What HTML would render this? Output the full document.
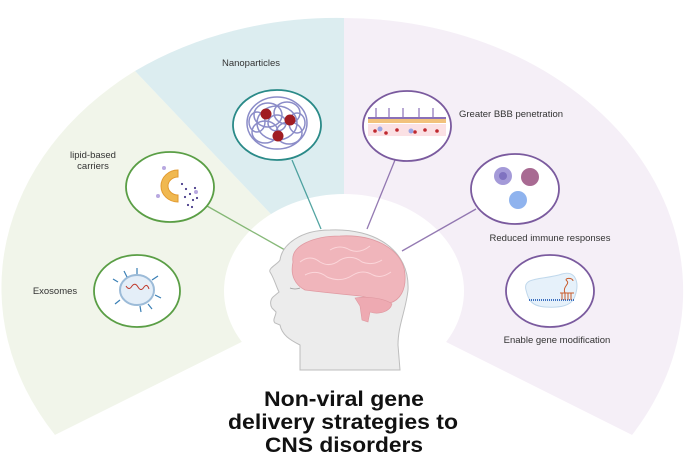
<!DOCTYPE html>
<html><head><meta charset="utf-8"><style>
html,body{margin:0;padding:0;background:#fff}
svg{display:block}
text{font-family:"Liberation Sans",Arial,sans-serif}
</style></head><body>
<svg width="685" height="458" viewBox="0 0 685 458" xmlns="http://www.w3.org/2000/svg">
<defs>
<linearGradient id="fl" x1="0" x2="1"><stop offset="0" stop-color="#6aa858"/><stop offset="1" stop-color="#6aa858" stop-opacity="0"/></linearGradient>
<linearGradient id="fr" x1="1" x2="0"><stop offset="0" stop-color="#8a6aa8"/><stop offset="1" stop-color="#8a6aa8" stop-opacity="0"/></linearGradient>
</defs>
<path d="M344,291 L55,435 A340,273 0 0 1 135,71 Z" fill="#f1f5ea"/>
<path d="M344,291 L135,71 A340,273 0 0 1 344,18 Z" fill="#dcedf0"/>
<path d="M344,291 L344,18 A340,273 0 0 1 632,435 Z" fill="#f5eff7"/>
<ellipse cx="344" cy="291" rx="120" ry="97" fill="#fff"/>
<path d="M344,291 L55,435 L632,435 Z" fill="#fff"/>
<rect x="0" y="435" width="685" height="23" fill="#fff"/>

<line x1="180" y1="291" x2="275" y2="291" stroke="url(#fl)" stroke-width="1.5"/>
<line x1="207" y1="206" x2="285" y2="250" stroke="#6aa858" stroke-width="1.3" opacity="0.8"/>
<line x1="292" y1="160" x2="321" y2="229" stroke="#2a8f8c" stroke-width="1.3" opacity="0.8"/>
<line x1="395" y1="160" x2="367" y2="229" stroke="#7a5aa0" stroke-width="1.3" opacity="0.8"/>
<line x1="476" y1="209" x2="402" y2="251" stroke="#7a5aa0" stroke-width="1.3" opacity="0.8"/>
<line x1="507" y1="291" x2="410" y2="291" stroke="url(#fr)" stroke-width="1.5"/>

<path d="M300,370 L300,345 C290,340 282,335 280,325 L275,323 C272,320 276,316 276,312 L272,308 C270,305 270,300 273,297 L279,292 C276,286 274,278 270,272 C268,268 278,264 280,260 C282,245 300,230 330,230 C375,228 410,250 408,290 C406,310 398,325 398,345 L400,370 Z" fill="#ececec" stroke="#bdbdbd" stroke-width="1"/>
<path d="M293,262 C290,245 315,236 340,236 C375,234 404,250 405,275 C406,290 400,300 390,303 C380,305 375,298 360,296 C340,294 320,292 305,290 C295,285 290,275 293,262 Z" fill="#f0b5bb" stroke="#e09aa2" stroke-width="0.8"/>
<path d="M355,298 C365,296 385,298 392,304 C390,312 378,315 370,312 L368,322 L362,320 L360,306 Z" fill="#eeaab2" stroke="#de98a0" stroke-width="0.6"/>
<path d="M300,262 q10,-8 20,0 q10,6 20,-2 q12,-6 22,2 q10,4 20,-2 M305,275 q12,-6 22,2 q14,6 26,-2 q10,-6 20,0 q8,4 18,-3 M330,250 q10,-6 20,0 q10,4 20,-4" fill="none" stroke="#fbd6da" stroke-width="1"/>
<path d="M290,288 q5,2 10,0" stroke="#999" fill="none" stroke-width="0.8"/>

<g stroke-width="1.8" fill="#fff">
<ellipse cx="137" cy="291" rx="43" ry="36" stroke="#5a9e45"/>
<ellipse cx="170" cy="187" rx="44" ry="35" stroke="#5a9e45"/>
<ellipse cx="277" cy="125" rx="44" ry="35" stroke="#2a8a88"/>
<ellipse cx="407" cy="126" rx="44" ry="35" stroke="#7a5a9e"/>
<ellipse cx="515" cy="189" rx="44" ry="35" stroke="#7a5a9e"/>
<ellipse cx="550" cy="291" rx="44" ry="36" stroke="#7a5a9e"/>
</g>
<ellipse cx="137" cy="290" rx="17" ry="15" fill="#e4eef8" stroke="#9cbbd8" stroke-width="2"/>
<path d="M126,286 q3,5 6,0 q3,-4 6,1 q3,5 6,0 q3,-4 5,2" stroke="#c0392b" fill="none" stroke-width="1"/>
<g stroke="#3a7fb5" stroke-width="1.2"><line x1="118" y1="282" x2="113" y2="279"/><line x1="120" y1="300" x2="115" y2="304"/><line x1="137" y1="274" x2="137" y2="268"/><line x1="152" y1="280" x2="158" y2="276"/><line x1="155" y1="295" x2="161" y2="298"/><line x1="140" y1="306" x2="141" y2="312"/><line x1="127" y1="277" x2="124" y2="271"/><line x1="148" y1="304" x2="152" y2="309"/></g>
<path d="M178,170 A17,16 0 1 0 178,202 L178,195 A10,9 0 1 1 178,177 Z" fill="#f0b850" stroke="#e29a30" stroke-width="1"/>
<g fill="#4a3d8a"><circle cx="182" cy="184" r="1.1"/><circle cx="186" cy="189" r="1.1"/><circle cx="190" cy="194" r="1.1"/><circle cx="185" cy="197" r="1.1"/><circle cx="193" cy="200" r="1.1"/><circle cx="188" cy="205" r="1.1"/><circle cx="195" cy="188" r="1.1"/><circle cx="197" cy="198" r="1.1"/><circle cx="192" cy="207" r="1.1"/></g>
<g fill="#b8a8e0"><circle cx="164" cy="168" r="2"/><circle cx="158" cy="196" r="2"/><circle cx="196" cy="192" r="2"/></g>
<g fill="none" stroke="#8b8cc8" stroke-width="1.5">
<ellipse cx="277" cy="123" rx="30" ry="26"/>
<ellipse cx="268" cy="115" rx="14" ry="12"/><ellipse cx="287" cy="113" rx="13" ry="11"/>
<ellipse cx="265" cy="132" rx="13" ry="11"/><ellipse cx="289" cy="133" rx="13" ry="11"/>
<ellipse cx="277" cy="123" rx="20" ry="17"/><ellipse cx="277" cy="123" rx="9" ry="8"/>
<ellipse cx="257" cy="122" rx="8" ry="10"/><ellipse cx="297" cy="123" rx="8" ry="10"/>
</g>
<circle cx="266" cy="114" r="5.5" fill="#a01c22"/><circle cx="290" cy="120" r="5.5" fill="#a01c22"/><circle cx="278" cy="136" r="5.5" fill="#a01c22"/>
<rect x="368" y="124" width="78" height="12" fill="#fbe1e4"/>
<rect x="368" y="118" width="78" height="5" fill="#f2c27c"/>
<path d="M368,118 L446,118" stroke="#8a70b8" stroke-width="2"/>
<g stroke="#8a70b8" stroke-width="1.2"><line x1="376" y1="118" x2="376" y2="108"/><line x1="389" y1="118" x2="389" y2="108"/><line x1="403" y1="118" x2="403" y2="108"/><line x1="419" y1="118" x2="419" y2="108"/><line x1="433" y1="118" x2="433" y2="108"/></g>
<g fill="#c0282e"><circle cx="375" cy="131" r="1.8"/><circle cx="386" cy="133" r="1.8"/><circle cx="397" cy="130" r="1.8"/><circle cx="415" cy="132" r="1.8"/><circle cx="425" cy="130" r="1.8"/><circle cx="437" cy="131" r="1.8"/></g>
<circle cx="380" cy="129" r="2.5" fill="#9aa6e6"/><circle cx="411" cy="131" r="2.5" fill="#9aa6e6"/>
<circle cx="503" cy="176" r="9" fill="#a49ad8"/><circle cx="503" cy="176" r="4" fill="#7f72c0"/>
<circle cx="530" cy="177" r="9" fill="#a86a92"/>
<circle cx="518" cy="200" r="9" fill="#8fb3ee"/>
<path d="M526,290 C522,276 545,280 562,274 C575,270 580,282 575,296 C572,306 560,308 545,307 C530,306 528,298 526,290 Z" fill="#e6f1fa" stroke="#c0d8ec" stroke-width="1"/>
<line x1="529" y1="300" x2="575" y2="300" stroke="#3a6fc0" stroke-width="2" stroke-dasharray="1 1"/>
<path d="M562,300 v-7 M565,300 v-7 M568,300 v-7 M571,300 v-7 M560,293 h14 M565,293 c-3,-6 5,-9 2,-12 c-4,-3 6,-4 6,0" stroke="#c85a2a" fill="none" stroke-width="1"/>

<g font-size="9.5" fill="#333">
<text x="251" y="66" text-anchor="middle">Nanoparticles</text>
<text x="93" y="158" text-anchor="middle">lipid-based</text>
<text x="93" y="169" text-anchor="middle">carriers</text>
<text x="55" y="294" text-anchor="middle">Exosomes</text>
<text x="459" y="117">Greater BBB penetration</text>
<text x="550" y="241" text-anchor="middle">Reduced immune responses</text>
<text x="557" y="343" text-anchor="middle">Enable gene modification</text>
</g>
<g font-size="21" font-weight="bold" fill="#111" text-anchor="middle">
<text x="344" y="406" textLength="160" lengthAdjust="spacingAndGlyphs">Non-viral gene</text>
<text x="343" y="429" textLength="230" lengthAdjust="spacingAndGlyphs">delivery strategies to</text>
<text x="344" y="452" textLength="158" lengthAdjust="spacingAndGlyphs">CNS disorders</text>
</g>
</svg>
</body></html>
